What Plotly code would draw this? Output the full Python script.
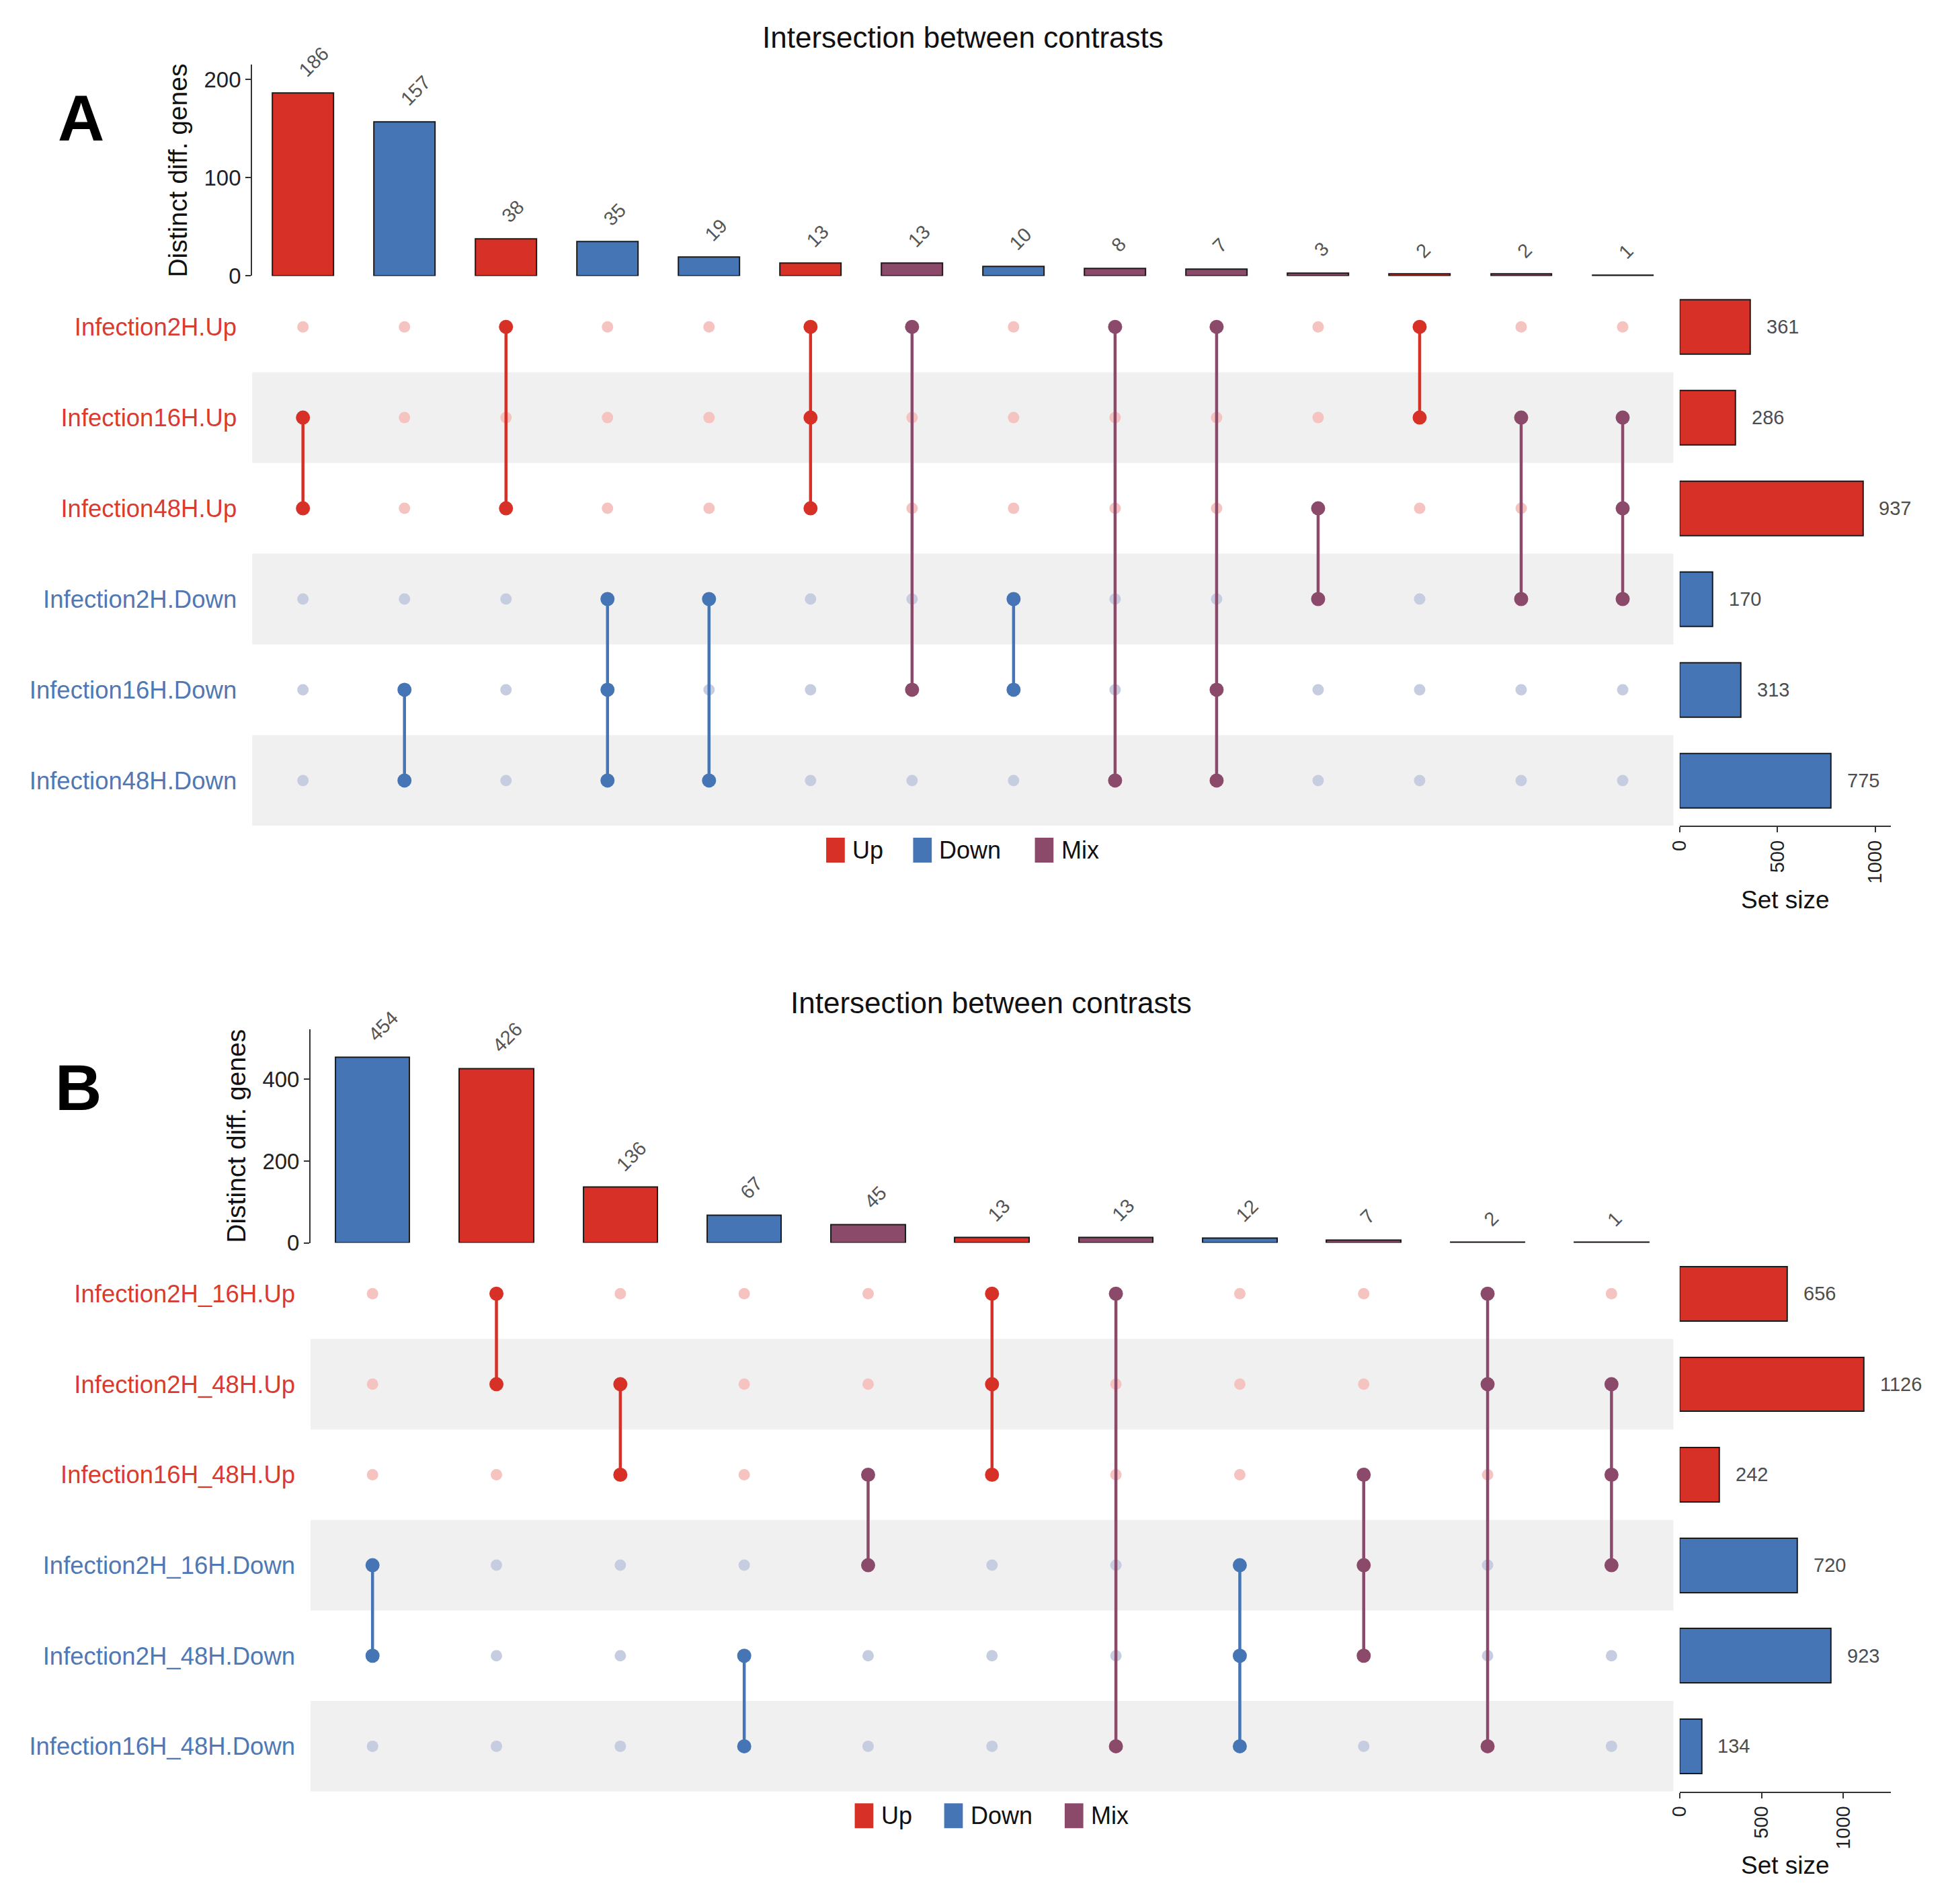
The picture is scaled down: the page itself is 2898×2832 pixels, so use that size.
import plotly.graph_objects as go

# ---------------- data ----------------
# Panel A
a_sets = ["Infection2H.Up", "Infection16H.Up", "Infection48H.Up",
          "Infection2H.Down", "Infection16H.Down", "Infection48H.Down"]
a_set_dirs = ["Up", "Up", "Up", "Down", "Down", "Down"]
a_set_sizes = [361, 286, 937, 170, 313, 775]
a_counts = [186, 157, 38, 35, 19, 13, 13, 10, 8, 7, 3, 2, 2, 1]
a_types = ["Up", "Down", "Up", "Down", "Down", "Up", "Mix", "Down", "Mix", "Mix", "Mix", "Up", "Mix", "Mix"]
a_members = [[2, 3], [5, 6], [1, 3], [4, 5, 6], [4, 6], [1, 2, 3], [1, 5], [4, 5],
             [1, 6], [1, 5, 6], [3, 4], [1, 2], [2, 4], [2, 3, 4]]

# Panel B
b_sets = ["Infection2H_16H.Up", "Infection2H_48H.Up", "Infection16H_48H.Up",
          "Infection2H_16H.Down", "Infection2H_48H.Down", "Infection16H_48H.Down"]
b_set_dirs = ["Up", "Up", "Up", "Down", "Down", "Down"]
b_set_sizes = [656, 1126, 242, 720, 923, 134]
b_counts = [454, 426, 136, 67, 45, 13, 13, 12, 7, 2, 1]
b_types = ["Down", "Up", "Up", "Down", "Mix", "Up", "Mix", "Down", "Mix", "Mix", "Mix"]
b_members = [[4, 5], [1, 2], [2, 3], [5, 6], [3, 4], [1, 2, 3], [1, 6], [4, 5, 6],
             [3, 4, 5], [1, 2, 6], [2, 3, 4]]

legend_names = ["Up", "Down", "Mix"]
title_text = "Intersection between contrasts"

# ---------------- style ----------------
FONT = "Liberation Sans, Arial, Helvetica, sans-serif"
RED, BLUE, MIX = "#d73027", "#4575b4", "#8c4a6a"
COLOR = {"Up": RED, "Down": BLUE, "Mix": MIX}
LIGHT = {"Up": "#f5c4c1", "Down": "#c7cde0"}
TXT = {"Up": "#db3a30", "Down": "#4f78b4"}
SHADE = "#f0f0f0"
AXC = "#333333"

SW, SH = 1568.0, 1532.0  # layout measured on a 1568x1532 preview
def px(x):
    return x / SW
def py(y):
    return 1 - y / SH

fig = go.Figure()
shapes, annots = [], []


def add_panel(k, sets, dirs, sizes, counts, types, members, geo):
    i1, i2, i3 = 3 * k + 1, 3 * k + 2, 3 * k + 3
    def ax(i):
        return "" if i == 1 else str(i)
    xb, yb = "x" + ax(i1), "y" + ax(i1)
    xm, ym = "x" + ax(i2), "y" + ax(i2)
    xs, ys = "x" + ax(i3), "y" + ax(i3)
    n = len(counts)
    cols = list(range(1, n + 1))
    rows = list(range(1, len(sets) + 1))

    # top intersection bars
    fig.add_trace(go.Bar(
        x=cols, y=counts, xaxis=xb, yaxis=yb, width=0.6,
        marker=dict(color=[COLOR[t] for t in types], line=dict(color="#1a1a1a", width=2)),
        showlegend=False, hoverinfo="x+y"))
    for c, v in zip(cols, counts):
        annots.append(dict(x=c, y=v, xref=xb, yref=yb, text=str(v), textangle=-45,
                           showarrow=False, xanchor="left", yanchor="bottom",
                           xshift=-15, yshift=15,
                           font=dict(size=29, color="#555555", family=FONT)))

    # row shading
    for r in rows:
        if r % 2 == 0:
            shapes.append(dict(type="rect", xref=xm + " domain", yref=ym,
                               x0=0, x1=1, y0=r - 0.5, y1=r + 0.5,
                               fillcolor=SHADE, line=dict(width=0), layer="below"))

    # inactive dots
    gx, gy, gc = [], [], []
    for c, mem in zip(cols, members):
        for r, d in zip(rows, dirs):
            if r not in mem:
                gx.append(c); gy.append(r); gc.append(LIGHT[d])
    fig.add_trace(go.Scatter(x=gx, y=gy, xaxis=xm, yaxis=ym, mode="markers",
                             marker=dict(size=17, color=gc, line=dict(width=0)),
                             showlegend=False, hoverinfo="skip"))
    # active connections
    for c, mem, t in zip(cols, members, types):
        ms = sorted(mem)
        fig.add_trace(go.Scatter(x=[c] * len(ms), y=ms, xaxis=xm, yaxis=ym,
                                 mode="lines+markers",
                                 line=dict(color=COLOR[t], width=4.5),
                                 marker=dict(size=21, color=COLOR[t], line=dict(width=0)),
                                 showlegend=False, hoverinfo="skip"))

    # set size bars
    fig.add_trace(go.Bar(
        x=sizes, y=rows, orientation="h", xaxis=xs, yaxis=ys, width=0.6,
        marker=dict(color=[COLOR[d] for d in dirs], line=dict(color="#1a1a1a", width=2)),
        showlegend=False, hoverinfo="x"))
    for s, r in zip(sizes, rows):
        annots.append(dict(x=s, y=r, xref=xs, yref=ys, text=str(s), showarrow=False,
                           xanchor="left", yanchor="middle", xshift=22,
                           font=dict(size=29, color="#4d4d4d", family=FONT)))

    ticktext = ['<span style="color:%s">%s</span>' % (TXT[d], s) for s, d in zip(sets, dirs)]

    fig.update_layout(**{
        ("xaxis" + ax(i1)): dict(domain=geo["xdom"], range=[0.5, n + 0.5], anchor=yb,
                                 visible=False, automargin=False),
        ("yaxis" + ax(i1)): dict(domain=geo["ybar"], range=[0, geo["ymax"]], anchor=xb,
                                 tickvals=geo["yticks"], showline=True, linecolor=AXC,
                                 linewidth=2, ticks="outside", ticklen=8, tickwidth=2,
                                 tickcolor=AXC, showgrid=False, zeroline=False,
                                 automargin=False,
                                 tickfont=dict(size=33, color="#222222", family=FONT)),
        ("xaxis" + ax(i2)): dict(domain=geo["xdom"], range=[0.5, n + 0.5], anchor=ym,
                                 visible=False, automargin=False),
        ("yaxis" + ax(i2)): dict(domain=geo["ymat"], range=[len(sets) + 0.5, 0.5], anchor=xm,
                                 tickvals=rows, ticktext=ticktext, ticks="",
                                 showline=False, showgrid=False, zeroline=False,
                                 ticklabelstandoff=22, automargin=False,
                                 tickfont=dict(size=36.5, family=FONT)),
        ("xaxis" + ax(i3)): dict(domain=geo["xset"], range=[0, geo["smax"]], anchor=ys,
                                 tickvals=[0, 500, 1000], tickangle=-90, showline=True,
                                 linecolor=AXC, linewidth=2, ticks="outside", ticklen=8,
                                 tickwidth=2, tickcolor=AXC, showgrid=False, zeroline=False,
                                 automargin=False,
                                 tickfont=dict(size=29, color="#222222", family=FONT)),
        ("yaxis" + ax(i3)): dict(domain=geo["ymat"], range=[len(sets) + 0.5, 0.5], anchor=xs,
                                 visible=False, automargin=False),
    })

    # texts
    annots.append(dict(x=geo["title"][0], y=geo["title"][1], xref="paper", yref="paper",
                       text=title_text, showarrow=False, xanchor="center", yanchor="middle",
                       font=dict(size=44, color="#111111", family=FONT)))
    annots.append(dict(x=geo["letter"][0], y=geo["letter"][1], xref="paper", yref="paper",
                       text="<b>%s</b>" % geo["name"], showarrow=False, xanchor="center",
                       yanchor="middle", font=dict(size=96, color="#000000", family=FONT)))
    annots.append(dict(x=geo["ytitle"][0], y=geo["ytitle"][1], xref="paper", yref="paper",
                       text="Distinct diff. genes", textangle=-90, showarrow=False,
                       xanchor="center", yanchor="middle",
                       font=dict(size=39, color="#111111", family=FONT)))
    annots.append(dict(x=geo["stitle"][0], y=geo["stitle"][1], xref="paper", yref="paper",
                       text="Set size", showarrow=False, xanchor="center", yanchor="middle",
                       font=dict(size=37, color="#111111", family=FONT)))
    # legend
    for name, lx in zip(legend_names, geo["leg_x"]):
        shapes.append(dict(type="rect", xref="paper", yref="paper",
                           x0=px(lx), x1=px(lx + 15), y0=py(geo["leg_y"] + 10),
                           y1=py(geo["leg_y"] - 10), fillcolor=COLOR[name],
                           line=dict(width=0)))
        annots.append(dict(x=px(lx + 20), y=py(geo["leg_y"]), xref="paper", yref="paper",
                           text=name, showarrow=False, xanchor="left", yanchor="middle",
                           font=dict(size=36, color="#111111", family=FONT)))


geoA = dict(name="A", xdom=[px(203), px(1347)], ybar=[py(222), py(52)],
            ymat=[py(664.5), py(226.5)], xset=[px(1352), px(1522)],
            ymax=215, yticks=[0, 100, 200], smax=1080,
            title=(px(775), py(30)), letter=(px(65), py(95)),
            ytitle=(px(143), py(137)), stitle=(px(1437), py(724)),
            leg_x=[665, 735, 833], leg_y=684)
geoB = dict(name="B", xdom=[px(250), px(1347)], ybar=[py(1000), py(828)],
            ymat=[py(1441.5), py(1004.5)], xset=[px(1352), px(1522)],
            ymax=523, yticks=[0, 200, 400], smax=1290,
            title=(px(798), py(807)), letter=(px(63), py(875)),
            ytitle=(px(190), py(914)), stitle=(px(1437), py(1501)),
            leg_x=[688, 760, 857], leg_y=1461)

add_panel(0, a_sets, a_set_dirs, a_set_sizes, a_counts, a_types, a_members, geoA)
add_panel(1, b_sets, b_set_dirs, b_set_sizes, b_counts, b_types, b_members, geoB)

fig.update_layout(width=2898, height=2832,
                  margin=dict(l=0, r=0, t=0, b=0, pad=0, autoexpand=False),
                  paper_bgcolor="white", plot_bgcolor="white",
                  font=dict(family=FONT), shapes=shapes, annotations=annots,
                  showlegend=False, bargap=0)

fig.write_html("out.html")
